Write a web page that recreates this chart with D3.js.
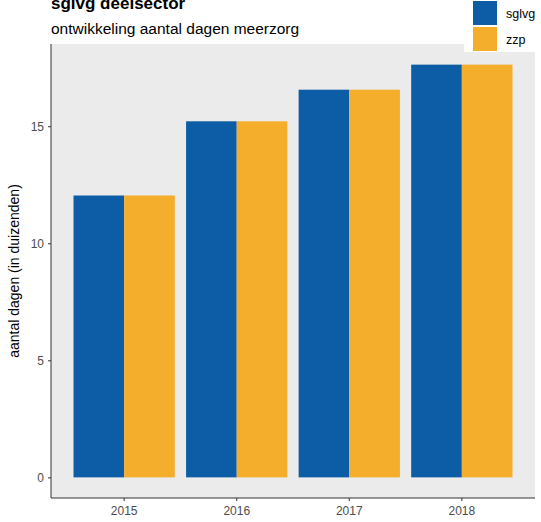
<!DOCTYPE html>
<html>
<head>
<meta charset="utf-8">
<script src="https://cdn.jsdelivr.net/npm/d3@7"></script>
<style>
  body { margin: 0; background: #fff; }
  svg { font-family: "Liberation Sans", Arial, sans-serif; }
</style>
</head>
<body>
<div class="graph"></div>
<script>
const years = ["2015", "2016", "2017", "2018"];
const seriesNames = ["sglvg", "zzp"];
const sglvg = [12.04, 15.21, 16.56, 17.63];
const zzp = [12.04, 15.21, 16.56, 17.63];
const yTicks = [0, 5, 10, 15];

const w = 541;
const h = 522;
const panel = {left: 51, right: 535, top: 44, bottom: 498};
const colors = {sglvg: "#0D5DA6", zzp: "#F5AE2C"};

const canvas = d3.select(".graph")
                 .append("svg")
                 .attr("width", w)
                 .attr("height", h);

// ggplot-like expansion
const maxVal = d3.max(sglvg.concat(zzp));
const y = d3.scaleLinear()
            .domain([-maxVal * 0.05, maxVal * 1.05])
            .range([panel.bottom, panel.top]);

// bars 0.9 wide, ~0.65 expansion on each side
const x = d3.scaleBand()
            .domain(years)
            .range([panel.left, panel.right])
            .paddingInner(0.1)
            .paddingOuter(0.2);

const inner = d3.scaleBand()
                .domain(seriesNames)
                .range([0, x.bandwidth()]);

canvas.append("rect")
      .attr("x", panel.left)
      .attr("y", panel.top)
      .attr("width", panel.right - panel.left)
      .attr("height", panel.bottom - panel.top)
      .attr("fill", "#EBEBEB");

const data = [];
years.forEach(function(yr, i) {
  data.push({year: yr, s: "sglvg", v: sglvg[i]});
  data.push({year: yr, s: "zzp", v: zzp[i]});
});

canvas.append("g")
      .selectAll("rect")
      .data(data)
      .enter()
      .append("rect")
      .attr("x", d => x(d.year) + inner(d.s))
      .attr("y", d => y(d.v))
      .attr("width", inner.bandwidth())
      .attr("height", d => y(0) - y(d.v))
      .attr("fill", d => colors[d.s]);

// axes
const yAxis = canvas.append("g")
                    .attr("transform", `translate(${panel.left},0)`)
                    .call(d3.axisLeft(y).tickValues(yTicks).tickSize(3).tickPadding(4));
const xAxis = canvas.append("g")
                    .attr("transform", `translate(0,${panel.bottom})`)
                    .call(d3.axisBottom(x).tickSize(3).tickPadding(5));

[yAxis, xAxis].forEach(function(ax) {
  ax.select(".domain").remove();
  ax.selectAll(".tick line").attr("stroke", "#333333");
  ax.selectAll(".tick text")
    .attr("fill", "#4D4D4D")
    .style("font-size", "12px")
    .style("font-family", "Liberation Sans, Arial, sans-serif");
});

canvas.append("line")
      .attr("x1", panel.left).attr("x2", panel.left)
      .attr("y1", panel.top).attr("y2", panel.bottom)
      .attr("stroke", "#333333");
canvas.append("line")
      .attr("x1", panel.left).attr("x2", panel.right)
      .attr("y1", panel.bottom).attr("y2", panel.bottom)
      .attr("stroke", "#333333");

// axis title
canvas.append("text")
      .attr("transform", `translate(19,${(panel.top + panel.bottom) / 2}) rotate(-90)`)
      .attr("text-anchor", "middle")
      .style("font-size", "14px")
      .attr("fill", "#000")
      .text("aantal dagen (in duizenden)");

// titles
canvas.append("text")
      .attr("x", panel.left)
      .attr("y", 9)
      .style("font-size", "17px")
      .style("font-weight", "bold")
      .text("sglvg deelsector");
canvas.append("text")
      .attr("x", panel.left)
      .attr("y", 34)
      .style("font-size", "15.5px")
      .text("ontwikkeling aantal dagen meerzorg");

// legend
const legend = canvas.append("g").attr("id", "legend");
legend.append("rect")
      .attr("x", 464).attr("y", 0)
      .attr("width", w - 464).attr("height", 52)
      .attr("fill", "#fff");
seriesNames.forEach(function(s, i) {
  legend.append("rect")
        .attr("x", 473).attr("y", 1 + i * 26)
        .attr("width", 24).attr("height", 24)
        .attr("fill", colors[s]);
  legend.append("text")
        .attr("x", 506).attr("y", 18 + i * 26)
        .style("font-size", "12.5px")
        .attr("fill", "#000")
        .text(s);
});
</script>
</body>
</html>
